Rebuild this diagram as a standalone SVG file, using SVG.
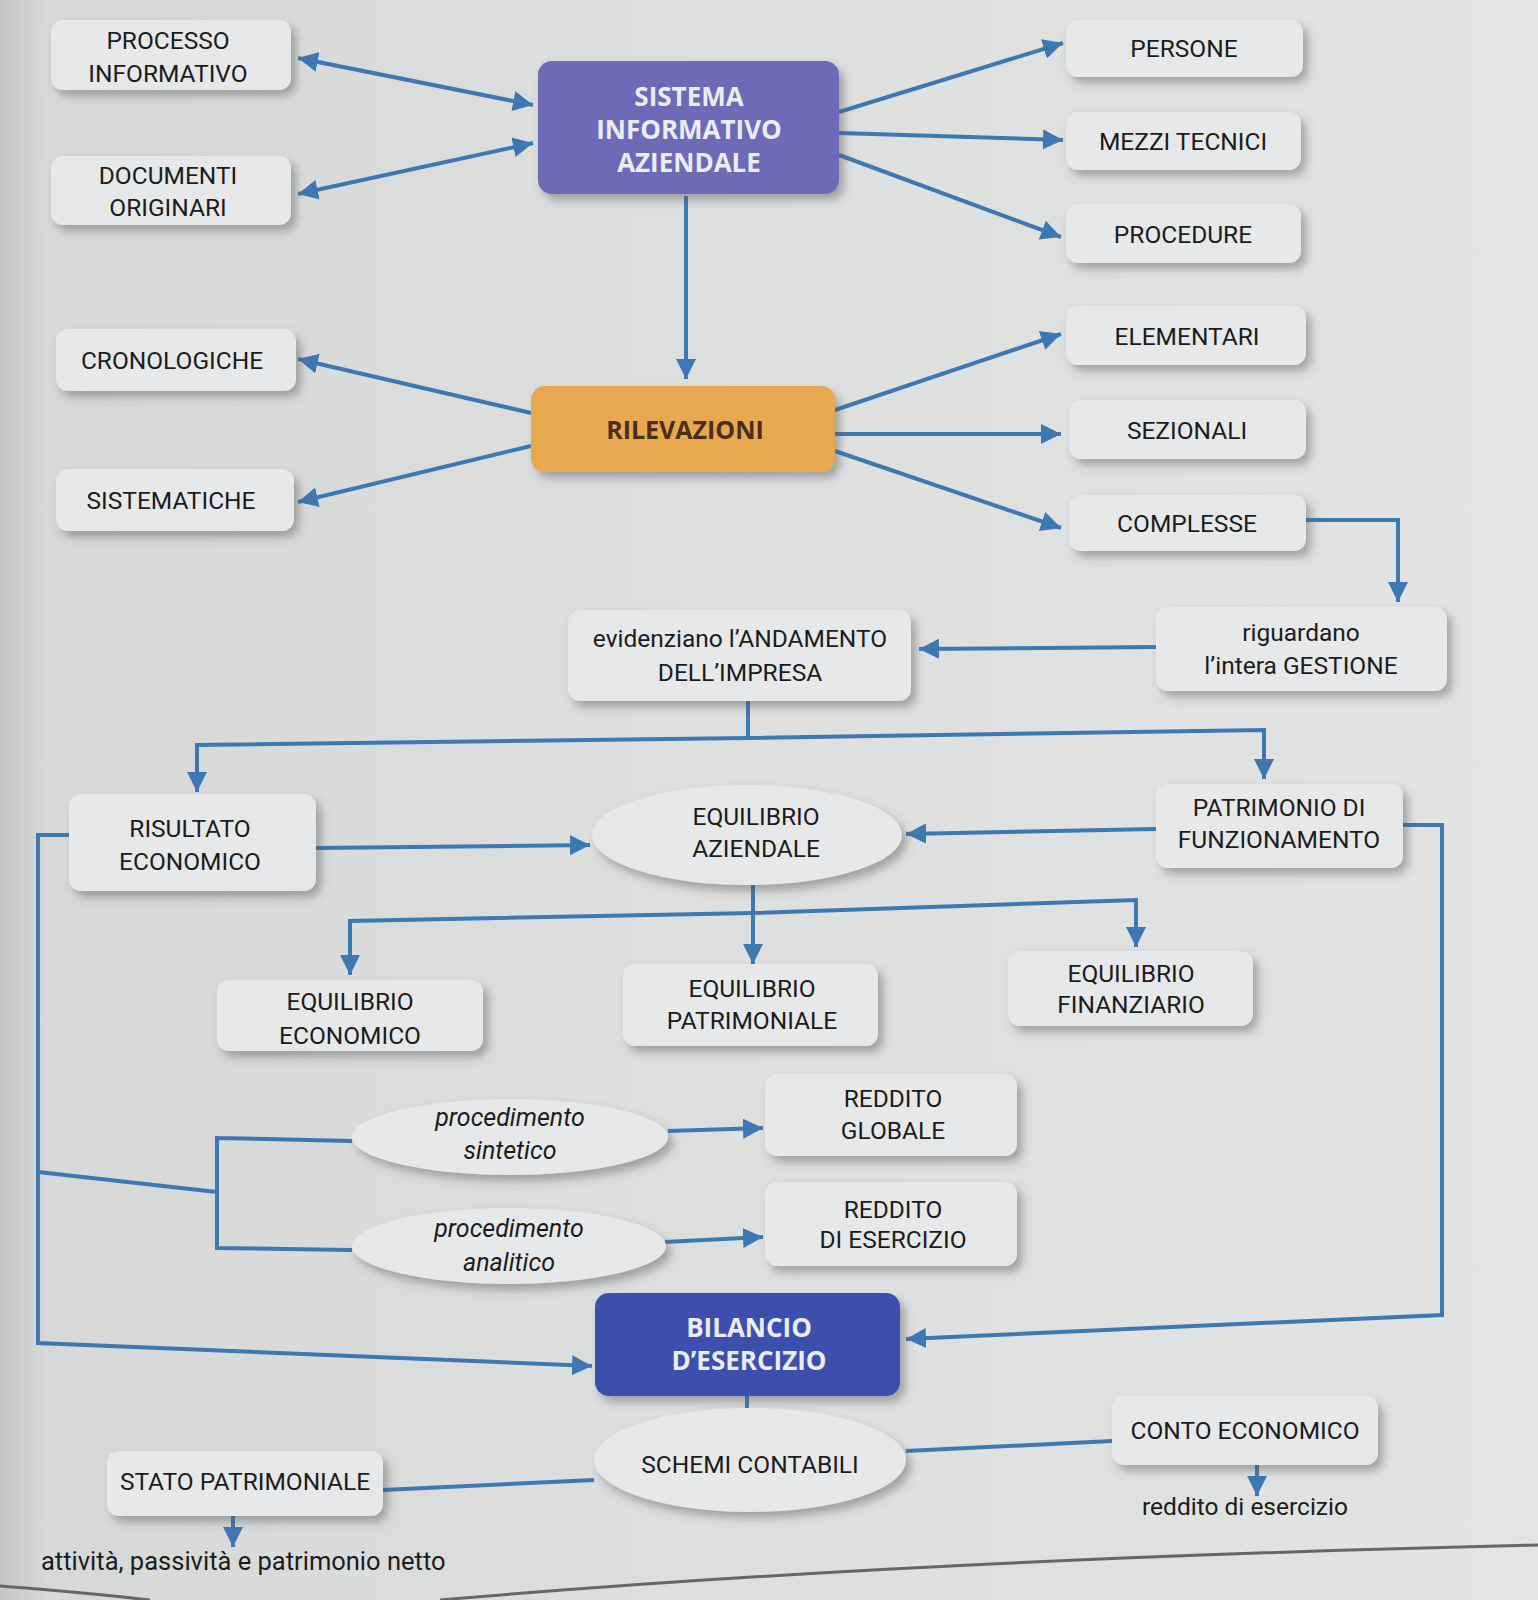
<svg xmlns="http://www.w3.org/2000/svg" width="1538" height="1600" viewBox="0 0 1538 1600">
<defs>
<linearGradient id="bg" x1="0" y1="0" x2="1" y2="0">
<stop offset="0" stop-color="#c3c6c5"/>
<stop offset="0.03" stop-color="#d6d9d8"/>
<stop offset="0.5" stop-color="#dde0df"/>
<stop offset="1" stop-color="#e2e4e3"/>
</linearGradient>
<filter id="sh" x="-10%" y="-20%" width="130%" height="150%">
<feDropShadow dx="5" dy="6" stdDeviation="5" flood-color="#555" flood-opacity="0.45"/>
</filter>
<marker id="ah" viewBox="0 0 10 10" refX="10" refY="5" markerUnits="userSpaceOnUse" markerWidth="20" markerHeight="26" orient="auto-start-reverse">
<path d="M0,0 L10,5 L0,10 z" fill="#3e78b2"/>
</marker>
<style>
.box{fill:#e7e8e9;filter:url(#sh)}
.t{font-family:Roboto,"Liberation Sans",sans-serif;font-size:24.5px;fill:#1c1c1c;text-anchor:middle}
.ti{font-family:Roboto,"Liberation Sans",sans-serif;font-size:25px;fill:#1c1c1c;text-anchor:middle;font-style:italic}
.tb{font-family:"Open Sans","Liberation Sans",sans-serif;font-size:26px;font-weight:bold;fill:#ececf4;text-anchor:middle}
.c{fill:none;stroke:#3e78b2;stroke-width:4}
.ca{fill:none;stroke:#3e78b2;stroke-width:4;marker-end:url(#ah)}
.cd{fill:none;stroke:#3e78b2;stroke-width:4;marker-end:url(#ah);marker-start:url(#ah)}
</style>
</defs>
<rect x="0" y="0" width="1538" height="1600" fill="url(#bg)"/>
<path d="M0,1586 Q80,1592 150,1600" fill="none" stroke="#666" stroke-width="3"/>
<path d="M440,1600 Q900,1560 1538,1545" fill="none" stroke="#666" stroke-width="3"/>

<g id="connectors">
<line class="cd" x1="298" y1="58" x2="533" y2="105"/>
<line class="cd" x1="298" y1="194" x2="533" y2="143"/>
<line class="ca" x1="839" y1="112" x2="1063" y2="43"/>
<line class="ca" x1="839" y1="133" x2="1063" y2="140"/>
<line class="ca" x1="839" y1="155" x2="1061" y2="237"/>
<line class="ca" x1="686" y1="196" x2="686" y2="379"/>
<line class="ca" x1="531" y1="413" x2="298" y2="359"/>
<line class="ca" x1="531" y1="446" x2="298" y2="502"/>
<line class="ca" x1="835" y1="410" x2="1061" y2="334"/>
<line class="ca" x1="835" y1="434" x2="1061" y2="434"/>
<line class="ca" x1="835" y1="451" x2="1061" y2="528"/>
<polyline class="ca" points="1306,520 1398,520 1398,602"/>
<line class="ca" x1="1156" y1="647" x2="919" y2="649"/>
<line class="c" x1="748" y1="701" x2="748" y2="738"/>
<polyline class="ca" points="748,738 197,745 197,792"/>
<polyline class="ca" points="748,738 1264,730 1264,779"/>
<line class="ca" x1="316" y1="848" x2="590" y2="845"/>
<line class="ca" x1="1156" y1="829" x2="906" y2="834"/>
<line class="ca" x1="753" y1="885" x2="753" y2="964"/>
<polyline class="ca" points="753,913 350,921 350,975"/>
<polyline class="ca" points="753,913 1136,900 1136,947"/>
<polyline class="ca" points="69,835 38,835 38,1343 592,1366"/>
<polyline class="c" points="38,1172 217,1192"/>
<polyline class="c" points="352,1141 217,1138 217,1248 352,1250"/>
<line class="ca" x1="668" y1="1131" x2="763" y2="1128"/>
<line class="ca" x1="665" y1="1242" x2="763" y2="1237"/>
<polyline class="ca" points="1403,825 1442,825 1442,1315 906,1339"/>
<line class="c" x1="747" y1="1396" x2="747" y2="1412"/>
<line class="c" x1="594" y1="1480" x2="383" y2="1490"/>
<line class="c" x1="906" y1="1451" x2="1112" y2="1441"/>
<line class="ca" x1="233" y1="1516" x2="233" y2="1547"/>
<line class="ca" x1="1257" y1="1465" x2="1257" y2="1496"/>
</g>

<g id="processo-informativo"><rect class="box" x="51" y="20" width="240" height="70" rx="12"/><text class="t" x="168" y="49">PROCESSO</text><text class="t" x="168" y="82">INFORMATIVO</text></g>
<g id="documenti-originari"><rect class="box" x="51" y="156" width="240" height="69" rx="12"/><text class="t" x="168" y="184">DOCUMENTI</text><text class="t" x="168" y="216">ORIGINARI</text></g>
<g id="sistema-informativo"><rect x="538" y="61" width="301" height="133" rx="14" fill="#6d6bb7" filter="url(#sh)"/><text class="tb" x="689" y="106">SISTEMA</text><text class="tb" x="689" y="139">INFORMATIVO</text><text class="tb" x="689" y="172">AZIENDALE</text></g>
<g id="persone"><rect class="box" x="1066" y="20" width="237" height="57" rx="12"/><text class="t" x="1184" y="57">PERSONE</text></g>
<g id="mezzi-tecnici"><rect class="box" x="1066" y="112" width="235" height="58" rx="12"/><text class="t" x="1183" y="150">MEZZI TECNICI</text></g>
<g id="procedure"><rect class="box" x="1066" y="204" width="235" height="59" rx="12"/><text class="t" x="1183" y="243">PROCEDURE</text></g>
<g id="cronologiche"><rect class="box" x="56" y="329" width="240" height="62" rx="12"/><text class="t" x="172" y="369">CRONOLOGICHE</text></g>
<g id="sistematiche"><rect class="box" x="56" y="469" width="238" height="62" rx="12"/><text class="t" x="171" y="509">SISTEMATICHE</text></g>
<g id="rilevazioni"><rect x="531" y="386" width="304" height="86" rx="14" fill="#e8a84f" filter="url(#sh)"/><text class="tb" x="685" y="439" style="fill:#4a2e18;font-size:25px">RILEVAZIONI</text></g>
<g id="elementari"><rect class="box" x="1066" y="306" width="240" height="59" rx="12"/><text class="t" x="1187" y="345">ELEMENTARI</text></g>
<g id="sezionali"><rect class="box" x="1069" y="400" width="237" height="59" rx="12"/><text class="t" x="1187" y="439">SEZIONALI</text></g>
<g id="complesse"><rect class="box" x="1069" y="495" width="237" height="56" rx="12"/><text class="t" x="1187" y="532">COMPLESSE</text></g>
<g id="riguardano"><rect class="box" x="1156" y="607" width="291" height="84" rx="12"/><text class="t" x="1301" y="641">riguardano</text><text class="t" x="1301" y="674">l’intera GESTIONE</text></g>
<g id="evidenziano"><rect class="box" x="568" y="610" width="343" height="91" rx="12"/><text class="t" x="740" y="647">evidenziano l’ANDAMENTO</text><text class="t" x="740" y="681">DELL’IMPRESA</text></g>
<g id="risultato-economico"><rect class="box" x="69" y="794" width="247" height="97" rx="12"/><text class="t" x="190" y="837">RISULTATO</text><text class="t" x="190" y="870">ECONOMICO</text></g>
<g id="equilibrio-aziendale"><ellipse cx="747" cy="835" rx="155" ry="50" fill="#e7e8e9" filter="url(#sh)"/><text class="t" x="756" y="825">EQUILIBRIO</text><text class="t" x="756" y="857">AZIENDALE</text></g>
<g id="patrimonio-funzionamento"><rect class="box" x="1156" y="784" width="247" height="84" rx="12"/><text class="t" x="1279" y="816">PATRIMONIO DI</text><text class="t" x="1279" y="848">FUNZIONAMENTO</text></g>
<g id="equilibrio-economico"><rect class="box" x="217" y="980" width="266" height="71" rx="12"/><text class="t" x="350" y="1010">EQUILIBRIO</text><text class="t" x="350" y="1044">ECONOMICO</text></g>
<g id="equilibrio-patrimoniale"><rect class="box" x="623" y="964" width="255" height="82" rx="12"/><text class="t" x="752" y="997">EQUILIBRIO</text><text class="t" x="752" y="1029">PATRIMONIALE</text></g>
<g id="equilibrio-finanziario"><rect class="box" x="1008" y="951" width="245" height="75" rx="12"/><text class="t" x="1131" y="982">EQUILIBRIO</text><text class="t" x="1131" y="1013">FINANZIARIO</text></g>
<g id="procedimento-sintetico"><ellipse cx="510" cy="1137" rx="158" ry="38" fill="#e7e8e9" filter="url(#sh)"/><text class="ti" x="510" y="1126">procedimento</text><text class="ti" x="510" y="1159">sintetico</text></g>
<g id="procedimento-analitico"><ellipse cx="509" cy="1246" rx="157" ry="38" fill="#e7e8e9" filter="url(#sh)"/><text class="ti" x="509" y="1237">procedimento</text><text class="ti" x="509" y="1271">analitico</text></g>
<g id="reddito-globale"><rect class="box" x="765" y="1074" width="252" height="82" rx="12"/><text class="t" x="893" y="1107">REDDITO</text><text class="t" x="893" y="1139">GLOBALE</text></g>
<g id="reddito-esercizio"><rect class="box" x="765" y="1182" width="252" height="84" rx="12"/><text class="t" x="893" y="1218">REDDITO</text><text class="t" x="893" y="1248">DI ESERCIZIO</text></g>
<g id="bilancio"><rect x="595" y="1293" width="305" height="103" rx="14" fill="#3d4fac" filter="url(#sh)"/><text class="tb" x="749" y="1337">BILANCIO</text><text class="tb" x="749" y="1370">D’ESERCIZIO</text></g>
<g id="schemi-contabili"><ellipse cx="750" cy="1460" rx="156" ry="52" fill="#e7e8e9" filter="url(#sh)"/><text class="t" x="750" y="1473">SCHEMI CONTABILI</text></g>
<g id="stato-patrimoniale"><rect class="box" x="107" y="1451" width="276" height="65" rx="12"/><text class="t" x="245" y="1490">STATO PATRIMONIALE</text></g>
<g id="conto-economico"><rect class="box" x="1112" y="1396" width="266" height="69" rx="12"/><text class="t" x="1245" y="1439">CONTO ECONOMICO</text></g>
<g id="reddito-label"><text class="t" x="1245" y="1515">reddito di esercizio</text></g>
<g id="attivita-label"><text class="t" x="41" y="1570" style="text-anchor:start;font-size:25.5px">attività, passività e patrimonio netto</text></g>
</svg>
